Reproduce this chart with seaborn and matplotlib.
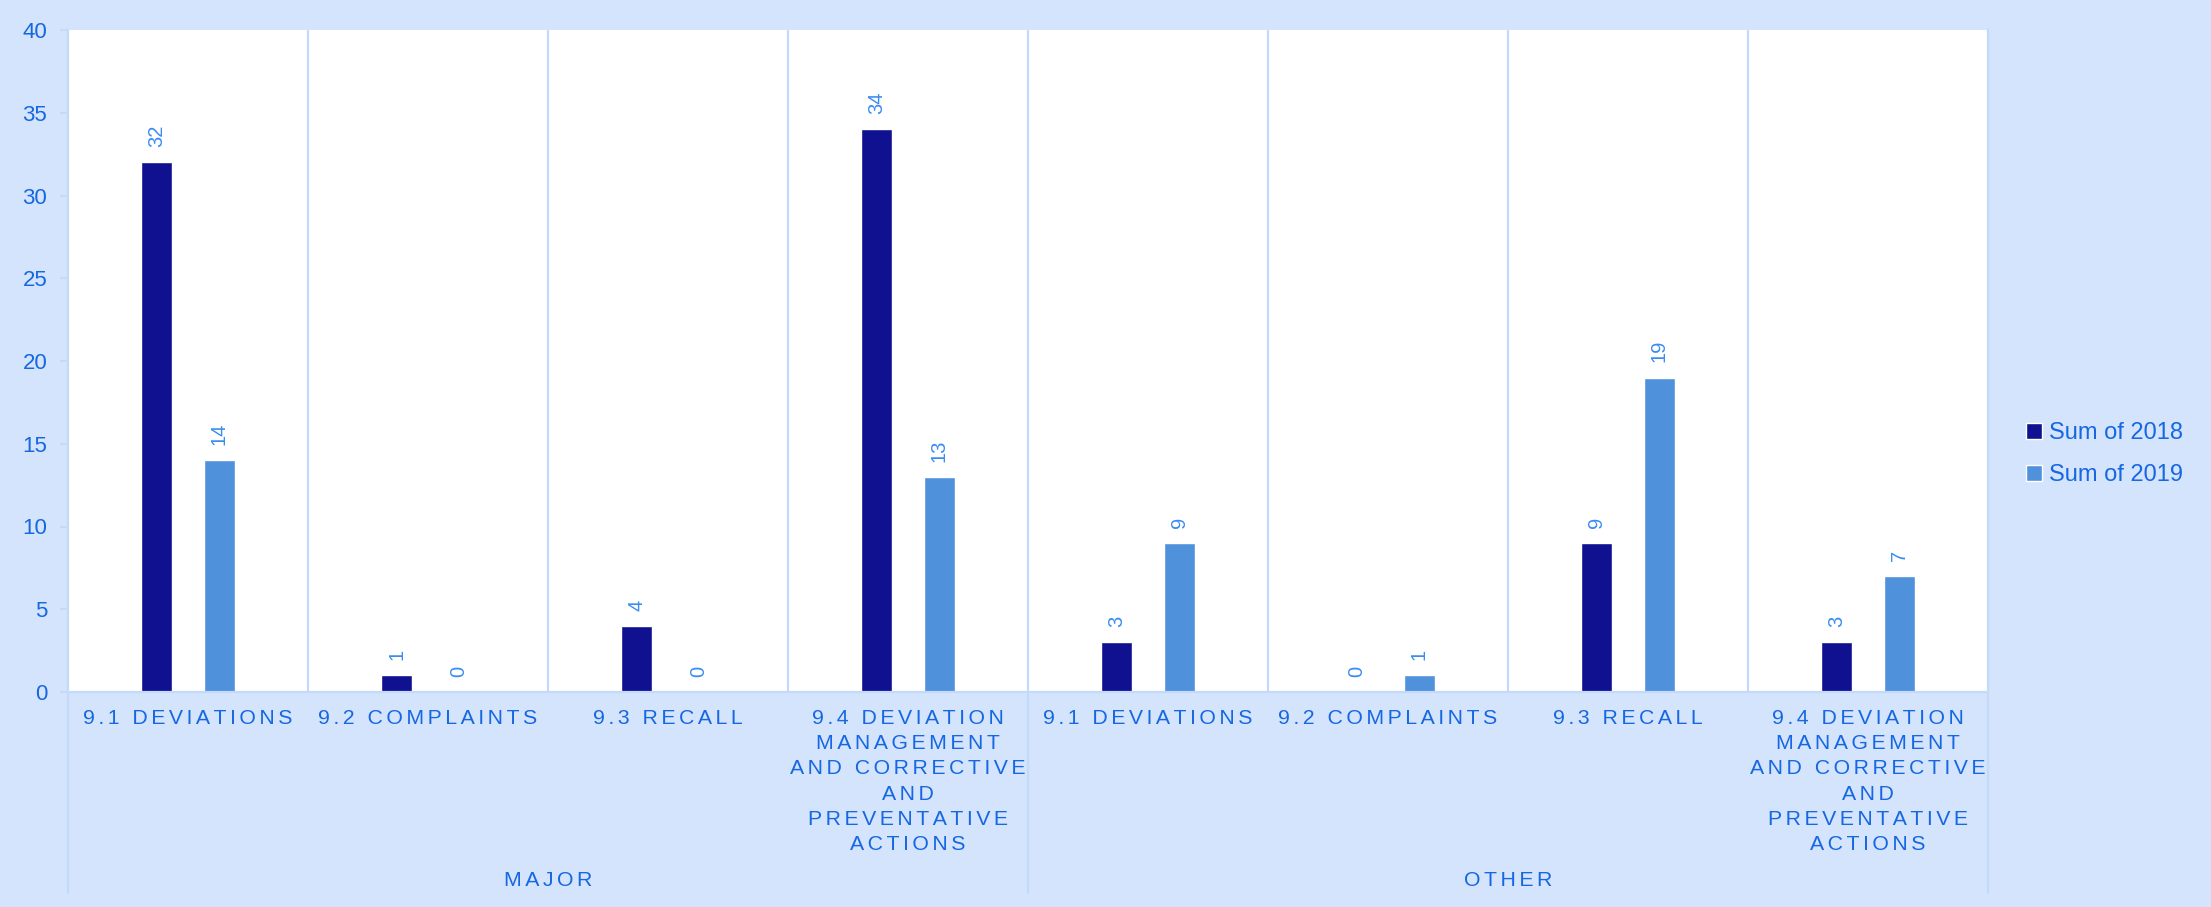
import matplotlib
matplotlib.use("Agg")
import matplotlib.pyplot as plt
import matplotlib.transforms as mtransforms
import seaborn as sns
import pandas as pd

# ---- data ----
groups = ["MAJOR", "MAJOR", "MAJOR", "MAJOR", "OTHER", "OTHER", "OTHER", "OTHER"]
subcats = [
    "9.1 DEVIATIONS", "9.2 COMPLAINTS", "9.3 RECALL",
    "9.4 DEVIATION\nMANAGEMENT\nAND CORRECTIVE\nAND\nPREVENTATIVE\nACTIONS",
    "9.1 DEVIATIONS", "9.2 COMPLAINTS", "9.3 RECALL",
    "9.4 DEVIATION\nMANAGEMENT\nAND CORRECTIVE\nAND\nPREVENTATIVE\nACTIONS",
]
series_names = ["Sum of 2018", "Sum of 2019"]
sum_2018 = [32, 1, 4, 34, 3, 0, 9, 3]
sum_2019 = [14, 0, 0, 13, 9, 1, 19, 7]
group_names = ["MAJOR", "OTHER"]
y_ticks = [0, 5, 10, 15, 20, 25, 30, 35, 40]

# ---- styling ----
BG = "#D4E4FC"
TXT = "#1667E2"
LBL = "#3A8CF2"
GRID = "#C3DAFB"
C18 = "#0F1190"
C19 = "#4F92DB"
FONT = "Liberation Sans"


def tracked(s):
    """emulate letter spacing with hair spaces"""
    return "\n".join("\u200a\u200a".join(line) for line in s.split("\n"))


keys = [f"{g}|{i}" for i, g in enumerate(groups)]
rows = []
for k, v18, v19 in zip(keys, sum_2018, sum_2019):
    rows.append({"key": k, "series": series_names[0], "value": v18})
    rows.append({"key": k, "series": series_names[1], "value": v19})
df = pd.DataFrame(rows)

sns.set_theme(style="white")
plt.rcParams["font.family"] = [FONT, "DejaVu Sans"]

W, H, DPI = 2211, 907, 100
fig = plt.figure(figsize=(W / DPI, H / DPI), dpi=DPI, facecolor=BG)
L, R, T, B = 68, 1988, 30, 692
ax = fig.add_axes([L / W, 1 - B / H, (R - L) / W, (B - T) / H])
ax.set_facecolor("white")

sns.barplot(data=df, x="key", y="value", hue="series", order=keys,
            hue_order=series_names, palette=[C18, C19], width=0.52, gap=0.5,
            saturation=1, ax=ax, legend=True, errorbar=None)

for cont in ax.containers:
    ax.bar_label(cont, labels=[f"{int(round(b.get_height()))}" for b in cont],
                 rotation=90, padding=11, fontsize=14.5, color=LBL)

ax.set_xlim(-0.5, len(keys) - 0.5)
ax.set_ylim(0, 40)
ax.set_yticks(y_ticks)
ax.set_yticklabels([str(t) for t in y_ticks])
ax.set_xlabel("")
ax.set_ylabel("")
ax.set_xticks(range(len(keys)))
ax.set_xticklabels([tracked(s) for s in subcats], fontsize=15.3, color=TXT,
                   linespacing=1.42)
ax.tick_params(axis="x", length=0, pad=12)
ax.tick_params(axis="y", length=6, width=1.5, color=GRID, labelsize=16,
               labelcolor=TXT, pad=9, direction="out", left=True)

# vertical separators inside plot
ax.set_xticks([i + 0.5 for i in range(len(keys) - 1)], minor=True)
ax.tick_params(axis="x", which="minor", length=0)
ax.grid(False)
ax.grid(True, axis="x", which="minor", color=GRID, linewidth=1.6)
ax.set_axisbelow(True)

for side in ["left", "bottom", "right"]:
    ax.spines[side].set_visible(True)
    ax.spines[side].set_color(GRID)
    ax.spines[side].set_linewidth(1.6)
ax.spines["top"].set_visible(False)

# hierarchical axis: group separators and labels
trans = mtransforms.blended_transform_factory(ax.transData, ax.transAxes)
y_end = -(893 - B) / (B - T)
n_per = len(keys) // len(group_names)
for xpos in [-0.5 + n_per * j for j in range(len(group_names) + 1)]:
    ax.plot([xpos, xpos], [0, y_end], transform=trans, color=GRID,
            linewidth=1.6, clip_on=False)
for j, g in enumerate(group_names):
    xc = -0.5 + n_per * j + n_per / 2
    ax.text(xc, -(880 - B) / (B - T), tracked(g), transform=trans, ha="center",
            va="center", fontsize=15.3, color=TXT)

# legend
leg = ax.legend(loc="center left", bbox_to_anchor=(2005 / W, 1 - 454 / H),
                bbox_transform=fig.transFigure, frameon=False, fontsize=17,
                handlelength=0.65, handleheight=0.65, handletextpad=0.3,
                labelspacing=0.85, labelcolor=TXT, title=None)

fig.savefig("out.png", dpi=DPI, facecolor=BG)
